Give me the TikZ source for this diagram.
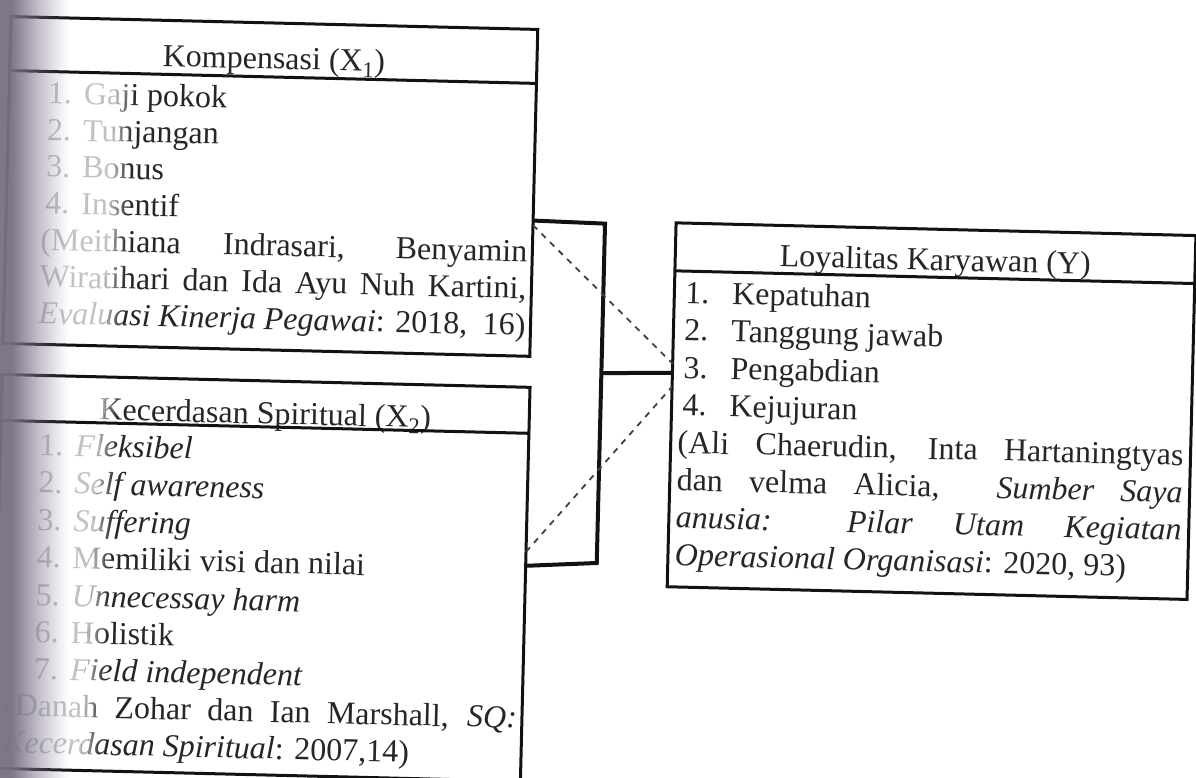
\documentclass[tikz,border=0pt]{standalone}
\usepackage{fontspec}
\setmainfont{Liberation Serif}
\definecolor{ink}{RGB}{38,38,38}
\definecolor{rule}{RGB}{18,18,18}
\definecolor{shadowc}{RGB}{120,112,132}
\newcommand\diafont{\fontsize{32}{37.5}\selectfont}
\begin{document}
\begin{tikzpicture}[x=1pt,y=-1pt,
  txt/.style={anchor=base west, inner sep=0pt, outer sep=0pt, text=ink, font=\diafont},
  ttl/.style={anchor=base, inner sep=0pt, outer sep=0pt, text=ink, font=\diafont},
  boxframe/.style={draw=rule, line width=3pt, inner sep=0pt, outer sep=0pt},
  seprule/.style={draw=rule, line width=3pt},
  conn/.style={draw=rule, line width=4pt, line join=miter},
  dashconn/.style={draw=rule!80, line width=1.8pt, dash pattern=on 6pt off 6pt},
  rot/.style={rotate around={-1.4:(598,389)}, transform shape}
]
\useasboundingbox (0,0) rectangle (1196,778);
\fill[white] (0,0) rectangle (1196,778);

% ---------------- texts ----------------
\begin{scope}[rot]
% Box 1
\node[ttl] (t1) at (266,77) {Kompensasi (X\textsubscript{1})};
\node[txt] (n11) at (41,117) {1.};
\node[txt] (i11) at (77,117) {Gaji pokok};
\node[txt] (n12) at (41,153.7) {2.};
\node[txt] (i12) at (77,153.7) {Tunjangan};
\node[txt] (n13) at (41,190.4) {3.};
\node[txt] (i13) at (77,190.4) {Bonus};
\node[txt] (n14) at (41,227.1) {4.};
\node[txt] (i14) at (77,227.1) {Insentif};
\node[txt] (c11) at (37,263.8) {\makebox[487pt][s]{(Meithiana Indrasari, Benyamin}};
\node[txt] (c12) at (37,300.5) {\makebox[487pt][s]{Wiratihari dan Ida Ayu Nuh Kartini,}};
\node[txt] (c13) at (37,337.2) {\makebox[487pt][s]{\textit{Evaluasi Kinerja Pegawai}: 2018, \ 16)}};
% Box 2
\node[ttl] (t2) at (266,432) {Kecerdasan Spiritual (X\textsubscript{2})};
\node[txt] (n21) at (41,469) {1.};
\node[txt] (i21) at (77,469) {\textit{Fleksibel}};
\node[txt] (n22) at (41,506.5) {2.};
\node[txt] (i22) at (77,506.5) {\textit{Self awareness}};
\node[txt] (n23) at (41,544) {3.};
\node[txt] (i23) at (77,544) {\textit{Suffering}};
\node[txt] (n24) at (41,581) {4.};
\node[txt] (i24) at (77,581) {Memiliki visi dan nilai};
\node[txt] (n25) at (41,619) {5.};
\node[txt] (i25) at (77,619) {\textit{Unnecessay harm}};
\node[txt] (n26) at (41,656) {6.};
\node[txt] (i26) at (77,656) {Holistik};
\node[txt] (n27) at (41,693) {7.};
\node[txt] (i27) at (77,693) {\textit{Field independent}};
\node[txt] (c21) at (12,730) {\makebox[513pt][s]{(Danah Zohar dan Ian Marshall, \textit{SQ:}}};
\node[txt] (c22) at (12,767) {\textit{Kecerdasan Spiritual}: 2007,14)};
% Box Y
\node[ttl] (t3) at (932,262) {Loyalitas Karyawan (Y)};
\node[txt] (n31) at (683,301) {1.};
\node[txt] (i31) at (730,301) {Kepatuhan};
\node[txt] (n32) at (683,338.5) {2.};
\node[txt] (i32) at (730,338.5) {Tanggung jawab};
\node[txt] (n33) at (683,376) {3.};
\node[txt] (i33) at (730,376) {Pengabdian};
\node[txt] (n34) at (683,413.5) {4.};
\node[txt] (i34) at (730,413.5) {Kejujuran};
\node[txt] (c31) at (679,451) {\makebox[506pt][s]{(Ali Chaerudin, Inta Hartaningtyas}};
\node[txt] (c32) at (679,488.5) {\makebox[506pt][s]{dan velma Alicia, \ \textit{Sumber Saya}}};
\node[txt] (c33) at (679,526) {\makebox[506pt][s]{\textit{anusia: Pilar Utam Kegiatan}}};
\node[txt] (c34) at (679,563.5) {\textit{Operasional Organisasi}: 2020, 93)};
\end{scope}

% ---------------- scanner fade over the left text ----------------
\fill[white, opacity=0.72] (0,0) -- (120,0) -- (80,778) -- (0,778) -- cycle;
\foreach \i in {0,...,9} {
  \pgfmathsetmacro\op{0.72*(1-(\i+0.5)/10)}
  \fill[white, opacity=\op] (120+2*\i,0) -- (122+2*\i,0) -- (82+2*\i,778) -- (80+2*\i,778) -- cycle;
}

% ---------------- frames and connectors ----------------
\begin{scope}[rot]
\node[boxframe, minimum width=527pt, minimum height=327pt] (b1) at (265.5,194.5) {};
\node[boxframe, minimum width=528pt, minimum height=394pt] (b2) at (266,586) {};
\node[boxframe, minimum width=520pt, minimum height=364pt] (bY) at (932,403) {};
\coordinate (s1w) at (2,85);   \coordinate (s1e) at (529,85);
\coordinate (s2w) at (2,435);  \coordinate (s2e) at (530,435);
\coordinate (s3w) at (672,269); \coordinate (s3e) at (1192,269);
\draw[seprule] (s1w) -- (s1e);
\draw[seprule] (s2w) -- (s2e);
\draw[seprule] (s3w) -- (s3e);
\coordinate (k1) at (601,223.5);
\coordinate (k2) at (601,563);
\coordinate (k3) at (601,373);
\draw[conn] (b1.-6.28) -- (k1) -- (k2) -- (b2.4.98);
\draw[conn] (k3) -- (bY.173.42);
\draw[dashconn] (b1.-7.46) -- (bY.171.69);
\draw[dashconn] (b2.7.77) -- (bY.176.04);
\end{scope}

% ---------------- scanner shadow at the left edge ----------------
\foreach \i in {0,...,34} {
  \pgfmathsetmacro\xc{2*\i+1}
  \pgfmathsetmacro\op{ifthenelse(\xc<12,0.95,0.95*((70-\xc)/58)^1.2)}
  \fill[shadowc, opacity=\op] (2*\i,0) rectangle (2*\i+2,778);
}
\end{tikzpicture}
\end{document}
